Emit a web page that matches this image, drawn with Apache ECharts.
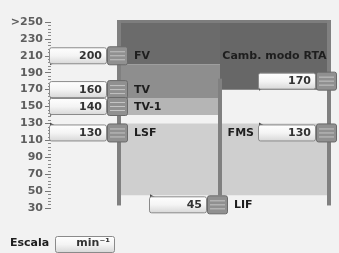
<!DOCTYPE html>
<html><head><meta charset="utf-8">
<script src="https://cdn.jsdelivr.net/npm/echarts@6/dist/echarts.min.js"></script>
<style>html,body{margin:0;padding:0;background:#f2f2f2}#c{width:339px;height:253px}</style>
</head><body><div id="c"></div>
<script>
// ---- data ----
const yTickValues = [30, 50, 70, 90, 110, 130, 150, 170, 190, 210, 230, 250];
const zoneNames = ['FV', 'TV', 'TV-1', 'LSF', 'Camb. modo RTA', 'FMS'];
const zoneColumns = [0, 0, 0, 0, 1, 1];
const zoneUpper = [250, 200, 160, 130, 250, 130];
const zoneLower = [200, 160, 140, 45, 170, 45];
const markerNames = ['FV', 'TV', 'TV-1', 'LSF', 'LIF', 'Camb. modo RTA', 'FMS'];
const markerAnchors = [0, 0, 0, 0, 1, 2, 2];
const markerValues = [200, 160, 140, 130, 45, 170, 130];
const scaleLabel = 'Escala';
const scaleUnit = 'min\u207B\u00B9';

// ---- layout / style ----
const colLines = [0, 0.957, 2];
const zoneColors = ['#6b6b6b', '#8e8e8e', '#b5b5b5', '#cfcfcf', '#676767', '#cfcfcf'];
const markerSide = ['above', 'above', 'above', 'below', 'below', 'above', 'below'];
const markerLabelPos = ['right', 'right', 'right', 'right', 'right', 'top', 'left'];
const FONT = '"DejaVu Sans", sans-serif';

const chart = echarts.init(document.getElementById('c'), null, {renderer: 'canvas'});

function boxFill() {
  return new echarts.graphic.LinearGradient(0, 0, 0, 1, [
    {offset: 0, color: '#ffffff'}, {offset: 0.5, color: '#f4f4f4'}, {offset: 1, color: '#d6d6d6'}
  ]);
}

function renderZone(params, api) {
  const c = api.value(0);
  const p1 = api.coord([colLines[c], api.value(1)]);
  const p2 = api.coord([colLines[c + 1], api.value(2)]);
  return {
    type: 'rect',
    shape: {x: p1[0], y: p1[1], width: p2[0] - p1[0], height: p2[1] - p1[1]},
    style: {fill: zoneColors[params.dataIndex]}
  };
}

function renderFrame(params, api) {
  const top = api.coord([0, 250])[1] - 2;
  const bottom = api.coord([0, 33])[1];
  const midTop = api.coord([0, 183])[1];
  const midBottom = api.coord([0, 45])[1];
  const xs = colLines.map(v => api.coord([v, 250])[0]);
  const children = [];
  children.push({type: 'rect', shape: {x: xs[0] - 3, y: top, width: xs[2] - xs[0] + 5, height: 3, r: [2, 2, 0, 0]},
    style: {fill: '#7d7d7d'}});
  children.push({type: 'rect', shape: {x: xs[0] - 3, y: top, width: 4, height: bottom - top}, style: {fill: '#808080'}});
  children.push({type: 'rect', shape: {x: xs[2] - 2, y: top, width: 4, height: bottom - top}, style: {fill: '#808080'}});
  children.push({type: 'rect', shape: {x: xs[1] - 2, y: midTop, width: 4, height: midBottom - midTop}, style: {fill: '#808080'}});
  return {type: 'group', children};
}

function renderMarker(params, api) {
  const i = params.dataIndex;
  const a = api.value(0);
  const v = api.value(1);
  const p = api.coord([colLines[a], v]);
  const ax = p[0], y = p[1];
  const above = markerSide[i] === 'above';
  const bw = 57, bh = 16;
  const bx = ax - 71;
  const by = above ? y - 1 - bh : y + 1;
  const cy = by + bh / 2;
  const ch = [];
  ch.push({type: 'polygon', shape: {points: above
      ? [[bx + 1, by + bh - 2], [bx + 8, by + bh - 2], [bx + 1, y + 1]]
      : [[bx + 1, by + 2], [bx + 8, by + 2], [bx + 1, y - 1]]},
    style: {fill: '#4a4a4a'}});
  ch.push({type: 'rect', shape: {x: bx + 0.5, y: by + 0.5, width: bw, height: bh, r: 2},
    style: {fill: boxFill(), stroke: '#8a8a8a', lineWidth: 1}});
  ch.push({type: 'text', style: {text: String(v), x: bx + bw - 4, y: cy + 1, align: 'right', verticalAlign: 'middle',
    font: 'bold 11px ' + FONT, fill: '#333'}});
  const hx = ax - 13, hw = 20, hh = 18, hy = cy - hh / 2;
  ch.push({type: 'rect', shape: {x: hx + 0.5, y: hy + 0.5, width: hw, height: hh, r: 2},
    style: {fill: '#909090', stroke: '#6a6a6a', lineWidth: 1}});
  [-4, 0, 4].forEach(d => {
    ch.push({type: 'line', shape: {x1: hx + 3, y1: cy + d + 0.5, x2: hx + hw - 2, y2: cy + d + 0.5},
      style: {stroke: '#c4c4c4', lineWidth: 1}});
  });
  const pos = markerLabelPos[i];
  let lx, ly, align;
  if (pos === 'right') { lx = hx + hw + 7; ly = cy + 1; align = 'left'; }
  else if (pos === 'left') { lx = bx - 4; ly = cy + 1; align = 'right'; }
  else {
    const c1 = api.coord([colLines[1], v])[0], c2 = api.coord([colLines[2], v])[0];
    lx = (c1 + c2) / 2; ly = cy - 24; align = 'center';
  }
  ch.push({type: 'text', style: {text: markerNames[i], x: lx, y: ly, align, verticalAlign: 'middle',
    font: 'bold 11px ' + FONT, fill: '#1e1e1e'}});
  return {type: 'group', children: ch};
}

const option = {
  backgroundColor: '#f2f2f2',
  animation: false,
  grid: [
    {left: 120, right: 10, top: 22, bottom: 45},
    {left: 51, width: 1, top: 22, bottom: 45}
  ],
  xAxis: [
    {type: 'value', min: 0, max: 2, show: false, gridIndex: 0},
    {type: 'value', min: 0, max: 1, show: false, gridIndex: 1}
  ],
  yAxis: [
    {type: 'value', min: 30, max: 250, interval: 20, show: false, gridIndex: 0},
    {
      type: 'value', min: 30, max: 250, interval: 20, gridIndex: 1,
      axisLine: {show: false},
      axisTick: {show: true, length: 6, lineStyle: {color: '#777'}},
      minorTick: {show: true, splitNumber: 5, length: 3, lineStyle: {color: '#8a8a8a'}},
      splitLine: {show: false},
      axisLabel: {
        margin: 8, color: '#5e5e5e', fontFamily: 'DejaVu Sans', fontWeight: 'bold', fontSize: 11,
        formatter: v => (yTickValues.indexOf(v) < 0 ? '' : (v === yTickValues[yTickValues.length - 1] ? '>' + v : String(v)))
      }
    }
  ],
  series: [
    {type: 'custom', renderItem: renderZone, clip: false, z: 1, xAxisIndex: 0, yAxisIndex: 0,
      data: zoneNames.map((n, i) => ({name: n, value: [zoneColumns[i], zoneUpper[i], zoneLower[i]]}))},
    {type: 'custom', renderItem: renderFrame, clip: false, z: 2, xAxisIndex: 0, yAxisIndex: 0, data: [[0, 250]]},
    {type: 'custom', renderItem: renderMarker, clip: false, z: 3, xAxisIndex: 0, yAxisIndex: 0,
      data: markerNames.map((n, i) => ({name: n, value: [markerAnchors[i], markerValues[i]]}))}
  ],
  graphic: [
    {type: 'text', left: 10, top: 238, style: {text: scaleLabel, font: 'bold 11px ' + FONT, fill: '#1e1e1e'}},
    {type: 'rect', left: 55, top: 236, shape: {width: 59, height: 16, r: 2},
      style: {fill: boxFill(), stroke: '#8a8a8a', lineWidth: 1}},
    {type: 'text', right: 339 - 110, top: 238, style: {text: scaleUnit, font: 'bold 11px ' + FONT, fill: '#333'}}
  ]
};
chart.setOption(option);
</script></body></html>
